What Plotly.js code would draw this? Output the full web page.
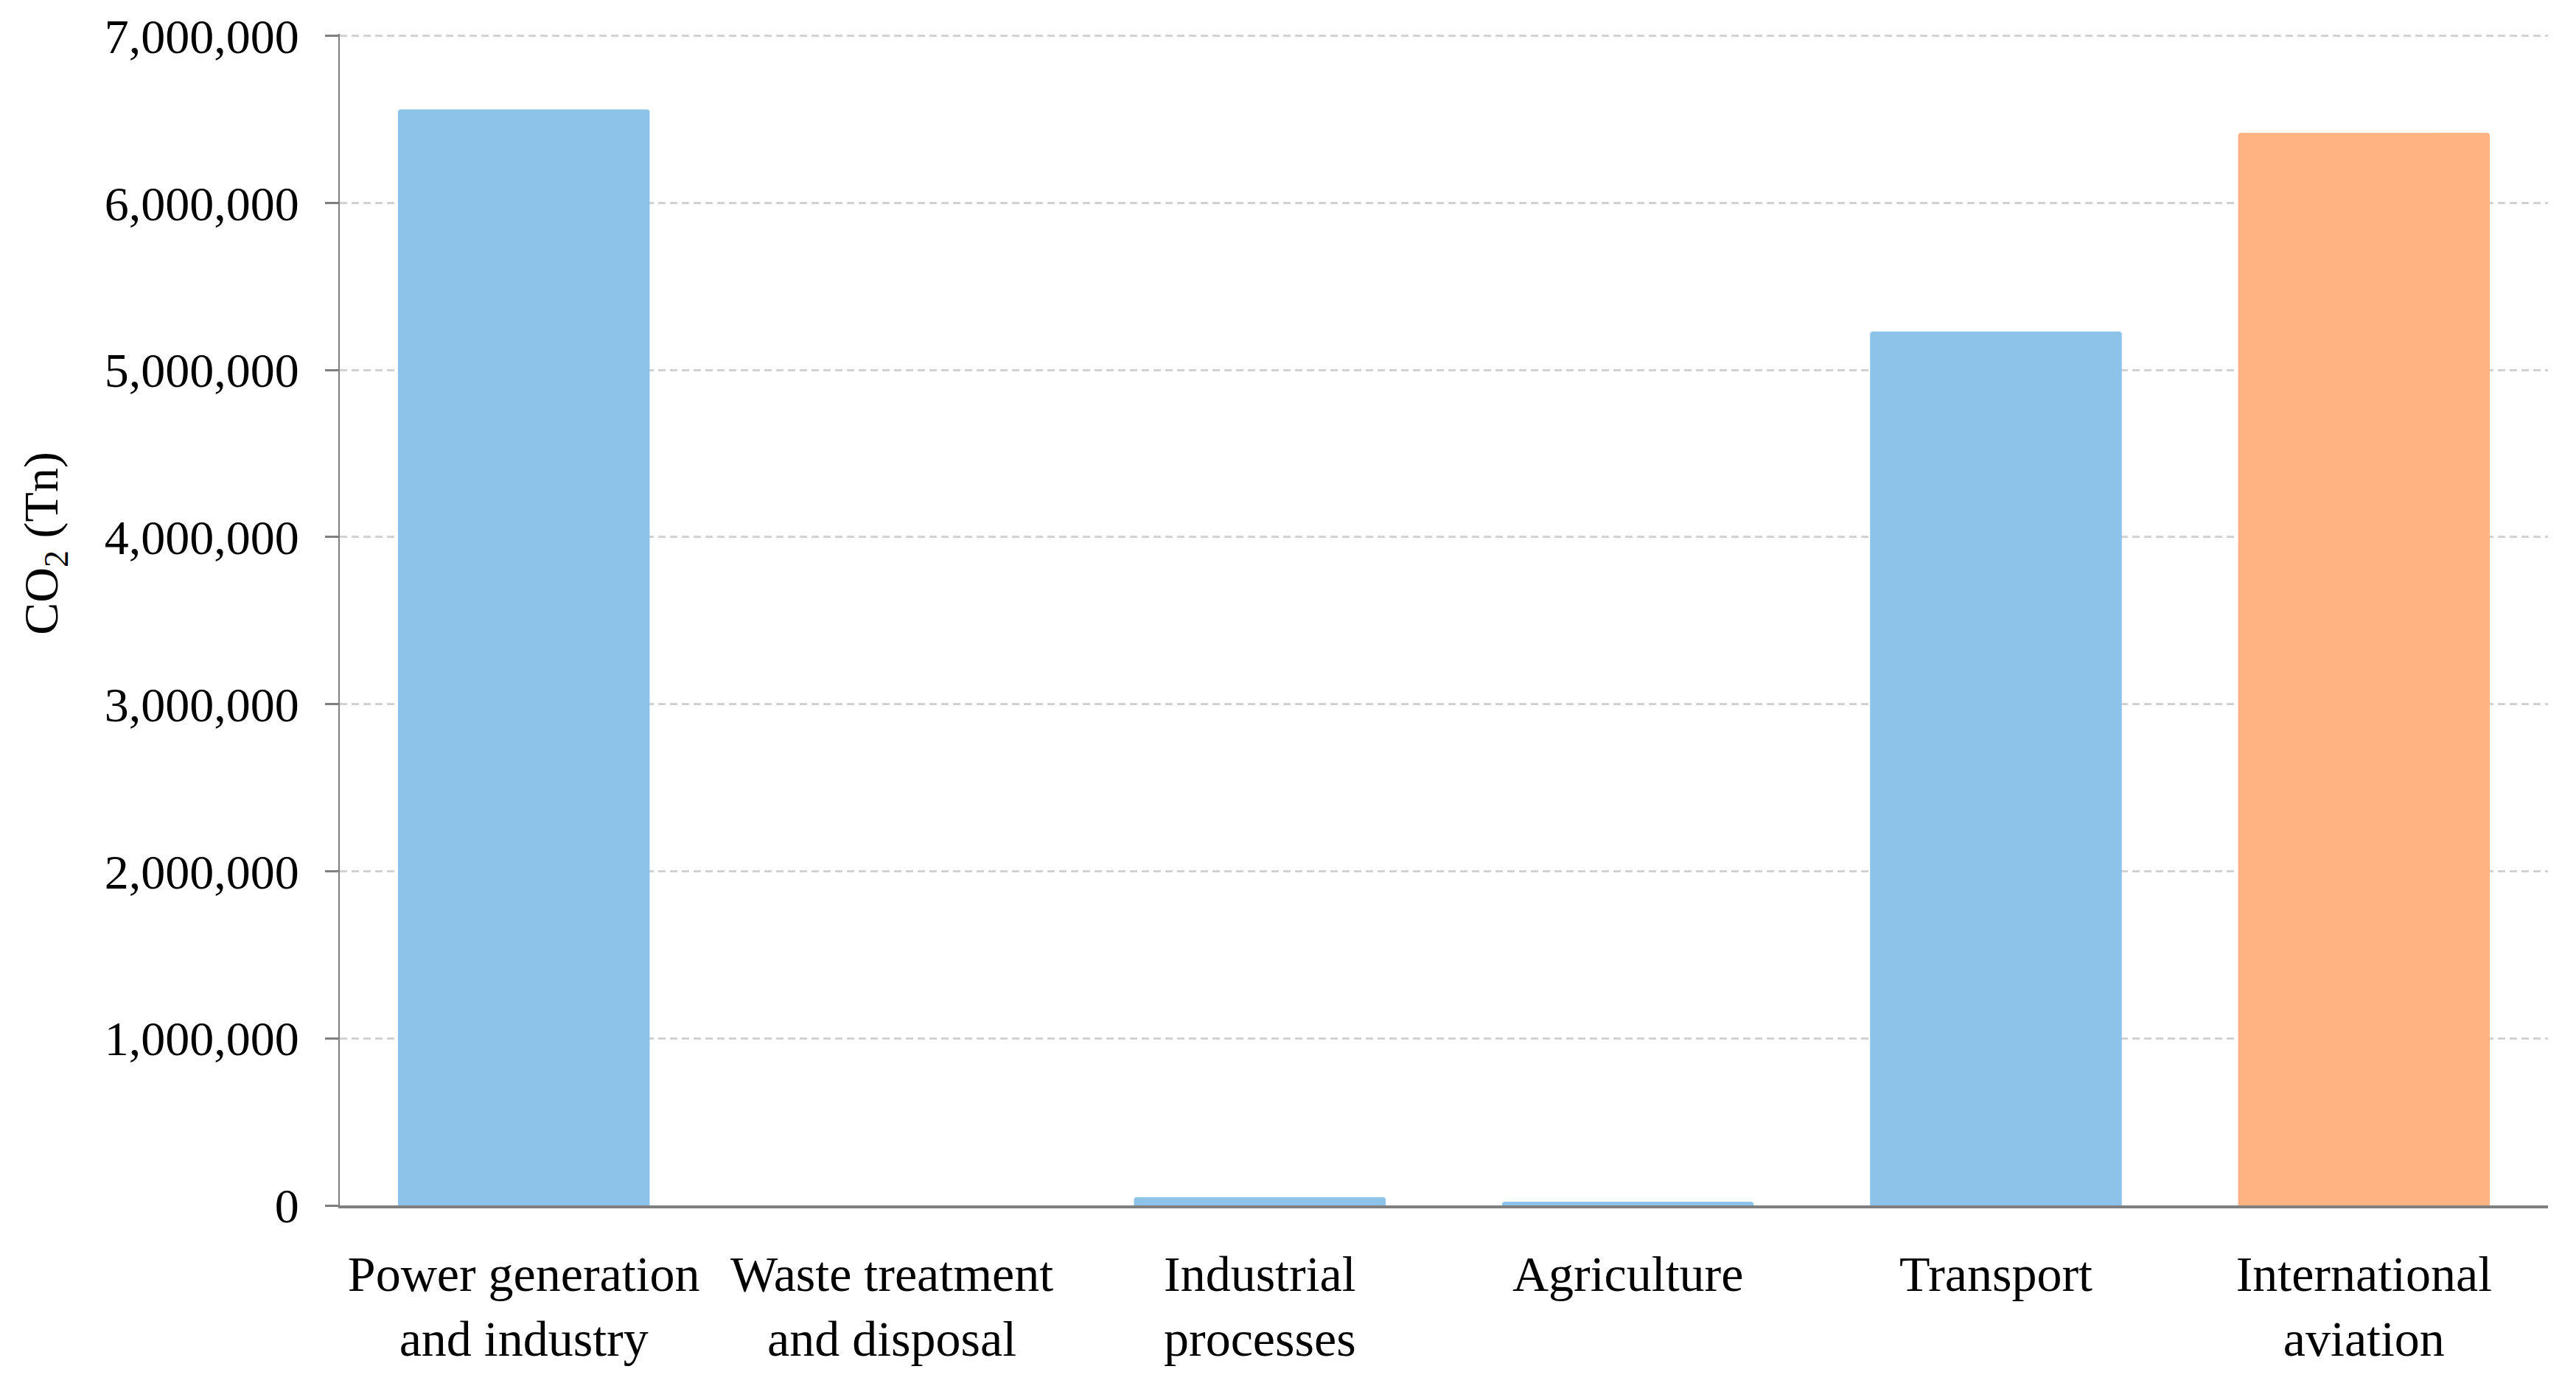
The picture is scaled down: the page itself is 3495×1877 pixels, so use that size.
<!DOCTYPE html>
<html>
<head>
<meta charset="utf-8">
<script src="https://cdn.plot.ly/plotly-3.0.1.min.js"></script>
<style>
  html, body { margin: 0; padding: 0; background: #fff; }
  #chart { width: 3495px; height: 1877px; }
</style>
</head>
<body>
<div id="chart"></div>
<script>
// sectors on the x axis
var sectors = [
    'Power generation<br>and industry',
    'Waste treatment<br>and disposal',
    'Industrial<br>processes',
    'Agriculture',
    'Transport',
    'International<br>aviation'
];
// CO2 emissions (Tn)
var co2 = [6560000, 0, 50000, 22000, 5230000, 6420000];
var barColors = ['#8dc3e8', '#8dc3e8', '#8dc3e8', '#8dc3e8', '#8dc3e8', '#ffb383'];

var yTicks = [0, 1000000, 2000000, 3000000, 4000000, 5000000, 6000000, 7000000];
var yTickText = ['0', '1,000,000', '2,000,000', '3,000,000', '4,000,000', '5,000,000', '6,000,000', '7,000,000'];

var CHART = document.getElementById('chart');

var data = [
    {
        x: sectors,
        y: co2,
        type: 'bar',
        marker: { color: barColors, cornerradius: 4, line: { width: 0 } },
        hoverinfo: 'x+y'
    }
];

var serif = 'Liberation Serif, DejaVu Serif, serif';

var layout = {
    width: 3495,
    height: 1877,
    margin: { l: 461, r: 38, t: 46, b: 241 },
    paper_bgcolor: '#ffffff',
    plot_bgcolor: '#ffffff',
    font: { family: serif, size: 64, color: '#000000' },
    bargap: 0.316,
    showlegend: false,
    xaxis: {
        type: 'category',
        range: [-0.5, 5.5],
        showline: true,
        linecolor: '#7f7f7f',
        linewidth: 4,
        ticks: '',
        ticklabelstandoff: 30,
        showgrid: false,
        zeroline: false,
        tickfont: { family: serif, size: 68, color: '#000000' }
    },
    yaxis: {
        range: [0, 7012000], // a bit above 7M so the top gridline is not clipped
        tickvals: yTicks,
        ticktext: yTickText,
        showline: true,
        linecolor: '#7f7f7f',
        linewidth: 2,
        ticks: 'outside',
        ticklen: 18,
        tickwidth: 3,
        tickcolor: '#7f7f7f',
        ticklabelstandoff: 22,
        showgrid: true,
        gridcolor: '#d2d2d2',
        gridwidth: 3,
        griddash: '10px,6px',
        zeroline: false,
        tickfont: { family: serif, size: 66, color: '#000000' }
    },
    // axis title placed as an annotation, it sits above the middle in the original
    annotations: [
        {
            text: 'CO<sub>2</sub> (Tn)',
            xref: 'paper', yref: 'paper',
            x: -0.1335, y: 0.565,
            xanchor: 'center', yanchor: 'middle',
            textangle: -90,
            showarrow: false,
            font: { family: serif, size: 66, color: '#000000' }
        }
    ]
};

var config = { responsive: false, displayModeBar: false };

Plotly.newPlot(CHART, data, layout, config);
</script>
</body>
</html>
